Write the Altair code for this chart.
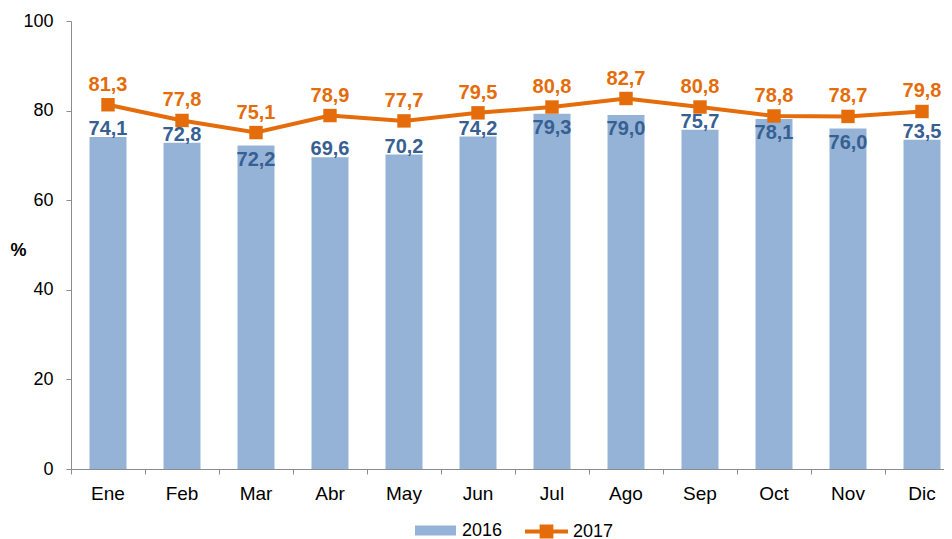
import altair as alt
import pandas as pd

months = ["Ene", "Feb", "Mar", "Abr", "May", "Jun", "Jul", "Ago", "Sep", "Oct", "Nov", "Dic"]
v2016 = [74.1, 72.8, 72.2, 69.6, 70.2, 74.2, 79.3, 79.0, 75.7, 78.1, 76.0, 73.5]
v2017 = [81.3, 77.8, 75.1, 78.9, 77.7, 79.5, 80.8, 82.7, 80.8, 78.8, 78.7, 79.8]
y_ticks = [0, 20, 40, 60, 80, 100]
title_text = "ENERO - DICIEMBRE 2016 Y 2017"

df = pd.DataFrame({"mes": months, "v2016": v2016, "v2017": v2017})
df["s16"] = "2016"
df["s17"] = "2017"

FONT = "Liberation Sans"
BLUE = "#95B3D7"
DBLUE = "#376092"
ORANGE = "#E46C0A"
AXIS_GRAY = "#8C8C8C"

STEP = 74.0
x_enc = alt.X(
    "mes:N",
    sort=months,
    scale=alt.Scale(range=[0, STEP * len(months)], paddingInner=0, paddingOuter=0),
    axis=alt.Axis(
        title=None, bandPosition=0, labelAngle=0,
        domainColor=AXIS_GRAY, tickColor=AXIS_GRAY, tickSize=5,
        labelFont=FONT, labelFontSize=19, labelColor="#000000", labelPadding=10,
    ),
)

y_axis = alt.Axis(
    values=y_ticks, grid=False, title="%", titleAngle=0, titleX=-53, titleY=229,
    titleFont=FONT, titleFontSize=18, titleFontWeight="bold", titleColor="#000000",
    titleAlign="center", titleBaseline="middle",
    domainColor=AXIS_GRAY, tickColor=AXIS_GRAY, tickSize=5,
    labelFont=FONT, labelFontSize=18, labelColor="#000000", labelPadding=13,
)


def y_enc(field):
    return alt.Y(f"{field}:Q", scale=alt.Scale(domain=[0, 100], nice=False), axis=y_axis)


base = alt.Chart(df).transform_calculate(
    gap="datum.v2017 - datum.v2016",
    l16="replace(format(datum.v2016, '.1f'), '.', ',')",
    l17="replace(format(datum.v2017, '.1f'), '.', ',')",
)

bars = base.mark_bar(width=alt.RelativeBandSize(0.5)).encode(
    x=x_enc,
    y=y_enc("v2016"),
    color=alt.Color(
        "s16:N",
        scale=alt.Scale(range=[BLUE]),
        legend=alt.Legend(
            title=None, orient="none", legendX=344, legendY=489,
            symbolType="M-1,-0.24L1,-0.24L1,0.24L-1,0.24Z", symbolSize=1681,
            symbolStrokeWidth=0, labelFont=FONT, labelFontSize=18,
            labelColor="#000000", labelOffset=6,
        ),
    ),
)

line = base.mark_line(color=ORANGE, strokeWidth=4).encode(x=x_enc, y=y_enc("v2017"))

markers = base.mark_point(shape="square", filled=True, size=180, opacity=1).encode(
    x=x_enc,
    y=y_enc("v2017"),
    fill=alt.Fill(
        "s17:N",
        scale=alt.Scale(range=[ORANGE]),
        legend=alt.Legend(
            title=None, orient="none", legendX=454, legendY=489,
            symbolType="M-1,-0.09L1,-0.09L1,0.09L-1,0.09Z M-0.32,-0.32L0.32,-0.32L0.32,0.32L-0.32,0.32Z",
            symbolSize=1849, symbolStrokeWidth=0, labelFont=FONT, labelFontSize=18,
            labelColor="#000000", labelOffset=5,
        ),
    ),
)

lbl17 = base.mark_text(
    color=ORANGE, font=FONT, fontSize=20, fontWeight="bold", baseline="alphabetic", dy=-14
).encode(x=x_enc, y=y_enc("v2017"), text="l17:N")

lbl16_out = base.transform_filter("datum.gap >= 4.5").mark_text(
    color=DBLUE, font=FONT, fontSize=20, fontWeight="bold", baseline="alphabetic", dy=-2
).encode(x=x_enc, y=y_enc("v2016"), text="l16:N")

lbl16_in = base.transform_filter("datum.gap < 4.5").mark_text(
    color=DBLUE, font=FONT, fontSize=20, fontWeight="bold", baseline="alphabetic", dy=20
).encode(x=x_enc, y=y_enc("v2016"), text="l16:N")

chart = alt.layer(bars, line, markers, lbl17, lbl16_out, lbl16_in).properties(
    width=873,
    height=448,
    title=alt.TitleParams(
        title_text, font=FONT, fontSize=22, fontWeight="bold", color="#2E4F9A",
        anchor="middle", dx=-35, offset=11, baseline="alphabetic",
    ),
    background="#FFFFFF",
    autosize=alt.AutoSizeParams(type="none"),
    padding={"left": 63, "top": 13, "right": 0, "bottom": 70},
).configure_view(stroke=None)

chart.save("out.html", embed_options={"renderer": "svg", "actions": False})
